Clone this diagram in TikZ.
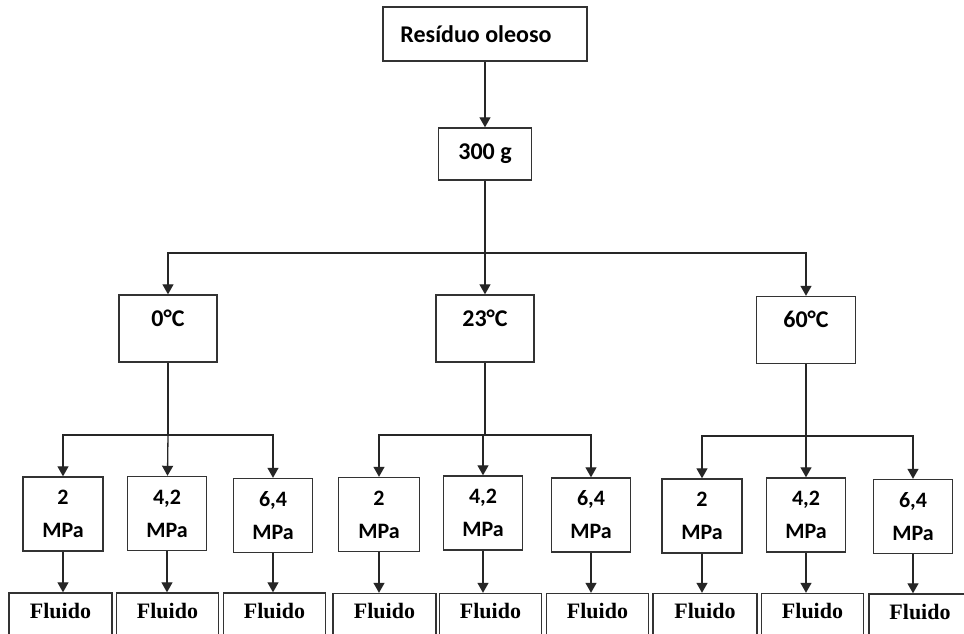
\documentclass[tikz,border=0pt]{standalone}
\usepackage{fontspec}
\newfontfamily\calibrifont{Carlito}
\newfontfamily\timesfont{Liberation Serif}
\usetikzlibrary{arrows.meta}

\begin{document}
\begin{tikzpicture}[x=1pt, y=-1pt,
          box/.style={rectangle, draw=black!80, line width=1.4pt, inner sep=0pt,
                      font=\calibrifont\bfseries\fontsize{24}{28}\selectfont, align=center},
          tbox/.style={box, minimum width=98pt, text height=31pt, text depth=36pt},
          pbox/.style={box, minimum width=79pt, minimum height=74pt,
                       font=\calibrifont\bfseries\fontsize{22}{33}\selectfont},
          fbox/.style={box, minimum width=102pt, text height=25pt, text depth=35pt,
                       font=\timesfont\bfseries\fontsize{22}{24}\selectfont},
          arr/.style={-{Triangle[width=11pt, length=10pt]}, line width=1.3pt, black!85},
          ln/.style={line width=1.3pt, black!85}
        ]
        \useasboundingbox (0,0) rectangle (964,634);
        \fill[white] (0,0) rectangle (964,634);

        % Sample
        \node[box, minimum width=204pt, minimum height=54pt]
              (res) at (485,34) {Resíduo oleoso\hspace*{18pt}};
        \node[box, minimum width=93pt, minimum height=52pt]
              (g300) at (485,154) {300 g};
        \draw[arr] (res)--(g300);

        % Temperature level
        \node[tbox] (t0)  at (168,328.5) {0°C};
        \node[tbox] (t23) at (485,328.5) {23°C};
        \node[tbox, minimum width=99pt] (t60) at (806,330) {60°C};

        \coordinate (bt) at (485,253);
        \draw[ln]  (g300)--(bt);
        \draw[arr] (bt) -| (t0);
        \draw[arr] (bt)--(t23);
        \draw[arr] (bt) -| (t60);

        % Pressure level, 0 °C
        \node[pbox, minimum width=80pt] (p0a) at (63,514) {2\\MPa};
        \node[pbox] (p0b) at (167,513.5) {4,2\\MPa};
        \node[pbox] (p0c) at (273,515.5) {6,4\\MPa};
        \coordinate (b0) at (168,435);
        \draw[ln]  (t0)--(b0);
        \draw[arr] (b0) -| (p0a);
        \draw[arr] (b0)--(p0b);
        \draw[arr] (b0) -| (p0c);

        % Pressure level, 23 °C
        \node[pbox, minimum width=81pt] (p23a) at (379,514.5) {2\\MPa};
        \node[pbox] (p23b) at (483,513) {4,2\\MPa};
        \node[pbox] (p23c) at (591,515) {6,4\\MPa};
        \coordinate (b23) at (485,435);
        \draw[ln]  (t23)--(b23);
        \draw[arr] (b23) -| (p23a);
        \draw[arr] (b23) -| (p23b);
        \draw[arr] (b23) -| (p23c);

        % Pressure level, 60 °C
        \node[pbox, minimum width=80pt] (p60a) at (702,516) {2\\MPa};
        \node[pbox] (p60b) at (806,515) {4,2\\MPa};
        \node[pbox] (p60c) at (913,516.5) {6,4\\MPa};
        \coordinate (b60) at (806,436);
        \draw[ln]  (t60)--(b60);
        \draw[arr] (b60) -| (p60a);
        \draw[arr] (b60)--(p60b);
        \draw[arr] (b60) -| (p60c);

        % Fluid
        \node[fbox, minimum width=103pt] (f0a) at (60.5,623) {Fluido};
        \node[fbox] (f0b) at (167.5,623) {Fluido};
        \node[fbox] (f0c) at (274.5,623) {Fluido};
        \node[fbox, minimum width=103pt] (f23a) at (384.5,623.5) {Fluido};
        \node[fbox] (f23b) at (490.5,623.5) {Fluido};
        \node[fbox] (f23c) at (597.5,623.5) {Fluido};
        \node[fbox, minimum width=104pt] (f60a) at (705,623.5) {Fluido};
        \node[fbox] (f60b) at (812.5,623.5) {Fluido};
        \node[fbox] (f60c) at (920,624) {Fluido};

        \draw[arr] (p0a.south)--(p0a.south |- f0a.north);
        \draw[arr] (p0b.south)--(p0b.south |- f0b.north);
        \draw[arr] (p0c.south)--(p0c.south |- f0c.north);
        \draw[arr] (p23a.south)--(p23a.south |- f23a.north);
        \draw[arr] (p23b.south)--(p23b.south |- f23b.north);
        \draw[arr] (p23c.south)--(p23c.south |- f23c.north);
        \draw[arr] (p60a.south)--(p60a.south |- f60a.north);
        \draw[arr] (p60b.south)--(p60b.south |- f60b.north);
        \draw[arr] (p60c.south)--(p60c.south |- f60c.north);
      \end{tikzpicture}
\end{document}
